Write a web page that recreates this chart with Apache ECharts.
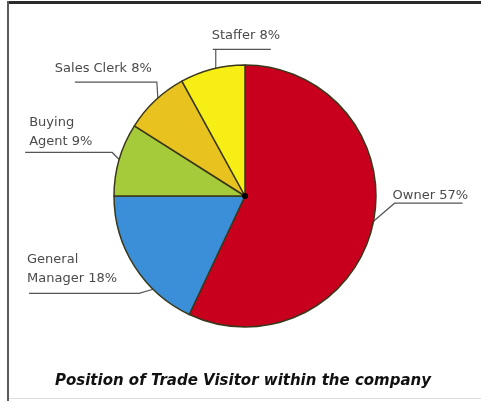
<!DOCTYPE html>
<html><head><meta charset="utf-8">
<script src="https://cdn.jsdelivr.net/npm/echarts@6/dist/echarts.min.js"></script>
<style>html,body{margin:0;padding:0;background:#fff}#c{width:486px;height:401px}</style>
</head><body><div id="c"></div>
<script>
// ---- data ----
const categories = ['Owner', 'General\nManager', 'Buying\nAgent', 'Sales Clerk', 'Staffer'];
const values = [57, 18, 9, 8, 8];
const chartTitle = 'Position of Trade Visitor within the company';

// ---- style ----
const colors = ['#c8001e', '#3b8ed8', '#a6cb3a', '#e8c21f', '#f6ee14'];
const CX = 245, CY = 196, R = 131, LH = 19;
// leader-line style per slice: attach-angle shift (deg), elbow offset, horizontal run, text gap, align, label x offset
const leader = [
  {shift: -1.5, elbow: [21, -18], run: [0, 68],   gap: -8,  align: 'left',  lx: -2},
  {shift: -13,  elbow: [-14, 4],  run: [0, -110], gap: -15, align: 'left',  lx: -112},
  {shift: 0,    elbow: [-7, -7],  run: [0, -87],  gap: -11, align: 'left',  lx: -83},
  {shift: 1.5,  elbow: [-1, -16], run: [0, -82],  gap: -14, align: 'right', lx: -5},
  {shift: 1.5,  elbow: [0, -19],  run: [-3, 55],  gap: -14, align: 'left',  lx: -4}
];

const chart = echarts.init(document.getElementById('c'), null, {renderer: 'canvas'});
chart.setOption({
  backgroundColor: '#fff',
  animation: false,
  title: {
    text: chartTitle,
    left: 'center',
    top: 369,
    textStyle: {fontFamily: 'DejaVu Sans', fontSize: 15, fontWeight: 'bold', fontStyle: 'italic', color: '#111'}
  },
  graphic: [
    {type: 'rect', shape: {x: 7, y: 1, width: 474, height: 3}, style: {fill: '#2a2a2a'}},
    {type: 'rect', shape: {x: 7, y: 1, width: 2, height: 400}, style: {fill: '#5a5a5a'}},
    {type: 'rect', shape: {x: 9, y: 398, width: 472, height: 1}, style: {fill: '#dcdcdc'}}
  ],
  series: [{
    type: 'pie',
    center: [CX, CY],
    radius: [0, R],
    startAngle: 90,
    clockwise: true,
    avoidLabelOverlap: false,
    itemStyle: {borderColor: '#3a381a', borderWidth: 1.5},
    data: categories.map((n, i) => ({name: n, value: values[i], itemStyle: {color: colors[i]}})),
    label: {
      show: true,
      position: 'outside',
      formatter: p => p.name + ' ' + p.value + '%',
      fontFamily: 'DejaVu Sans',
      fontSize: 13,
      lineHeight: LH,
      color: '#4a4a4a',
      overflow: 'none'
    },
    labelLine: {show: true, length: 10, length2: 10, smooth: false, lineStyle: {color: '#555', width: 1.2}},
    labelLayout: function (p) {
      const s = leader[p.dataIndex];
      const pts = p.labelLinePoints;
      const a0 = Math.atan2(pts[0][1] - CY, pts[0][0] - CX) + s.shift * Math.PI / 180;
      const ex = CX + R * Math.cos(a0), ey = CY + R * Math.sin(a0);
      const bx = ex + s.elbow[0], by = ey + s.elbow[1];
      return {
        x: bx + s.lx,
        y: by + s.gap + LH / 2,
        align: s.align,
        verticalAlign: 'bottom',
        labelLinePoints: [[ex, ey], [bx, by], [bx + s.run[0], by], [bx + s.run[1], by]]
      };
    }
  }, {
    type: 'pie',
    center: [CX, CY],
    radius: [0, 3],
    silent: true,
    label: {show: false},
    labelLine: {show: false},
    itemStyle: {color: '#000'},
    data: [1]
  }]
});
</script>
</body></html>
